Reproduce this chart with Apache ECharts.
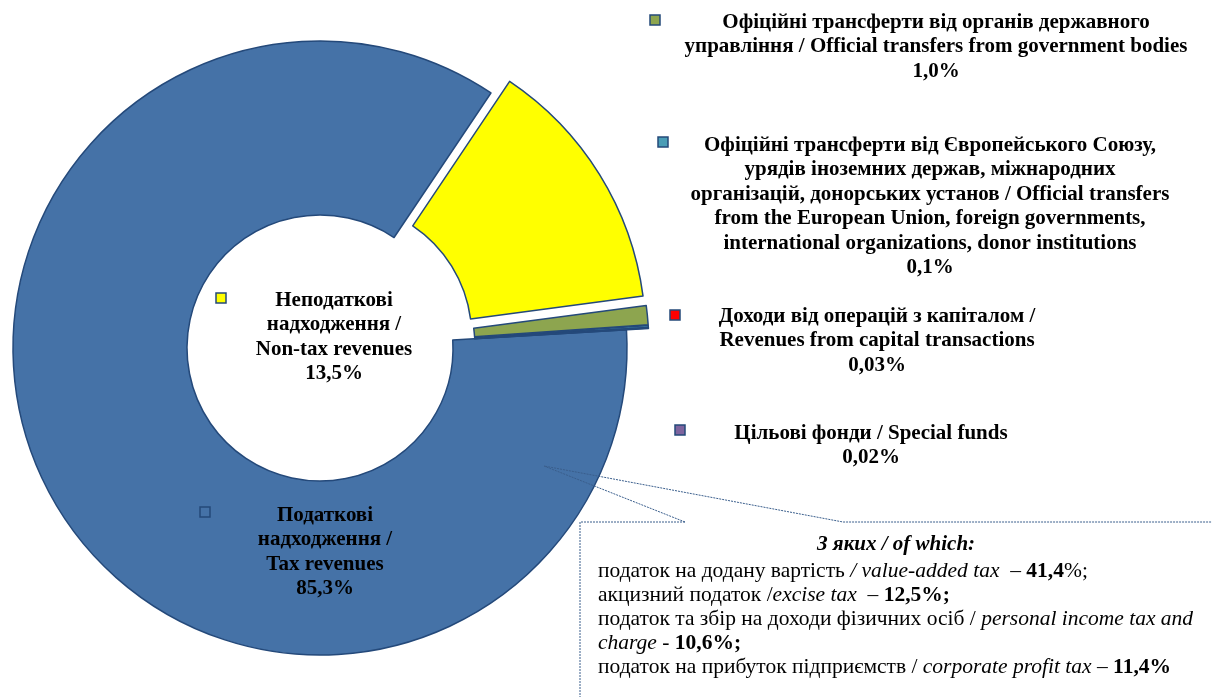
<!DOCTYPE html>
<html>
<head>
<meta charset="utf-8">
<script src="https://cdn.jsdelivr.net/npm/echarts@6/dist/echarts.min.js"></script>
<style>
  html, body { margin: 0; padding: 0; background: #fff; }
  #chart { width: 1212px; height: 697px; }
</style>
</head>
<body>
<div id="chart"></div>
<script>
// структура доходів
const categories = [
  'Податкові\nнадходження /\nTax revenues',
  'Неподаткові\nнадходження /\nNon-tax revenues',
  'Офіційні трансферти від органів державного\nуправління / Official transfers from government bodies',
  'Офіційні трансферти від Європейського Союзу,\nурядів іноземних держав, міжнародних\nорганізацій, донорських установ / Official transfers\nfrom the European Union, foreign governments,\ninternational organizations, donor institutions',
  'Доходи від операцій з капіталом /\nRevenues from capital transactions',
  'Цільові фонди / Special funds'
]
const shares = [85.3, 13.5, 1.0, 0.1, 0.03, 0.02]
const shareLabels = ['85,3%', '13,5%', '1,0%', '0,1%', '0,03%', '0,02%']

// з яких
const taxTitle = 'З яких / of which:'
const taxItemsUa = ['податок на додану вартість ', 'акцизний податок /', 'податок та збір на доходи фізичних осіб / ', 'податок на прибуток підприємств / ']
const taxItemsEn = ['/ value-added tax', 'excise tax', 'personal income tax and', 'corporate profit tax']
const taxShares = ['41,4', '12,5', '10,6', '11,4']

const colors = ['#4572A7', '#FFFF00', '#8DA54F', '#4A9DB6', '#FF0000', '#7E649E']
const edge = '#24497A'
const font = '"Liberation Serif", "Times New Roman", serif'

// розташування підписів
const labelPos = [
  { x: 325, y: 503, mx: 200, my: 507 },
  { x: 334, y: 288, mx: 216, my: 293 },
  { x: 936, y: 10, mx: 650, my: 15 },
  { x: 930, y: 133, mx: 658, my: 137 },
  { x: 877, y: 304, mx: 670, my: 310 },
  { x: 871, y: 421, mx: 675, my: 425 }
]

const chart = echarts.init(document.getElementById('chart'))

const graphics = []
categories.forEach((name, i) => {
  const p = labelPos[i]
  graphics.push({
    type: 'rect',
    shape: { x: p.mx, y: p.my, width: 10, height: 10 },
    style: { fill: colors[i], stroke: edge, lineWidth: 1.5 },
    z: 10
  })
  graphics.push({
    type: 'text',
    x: p.x,
    y: p.y,
    style: {
      text: name + '\n' + shareLabels[i],
      textAlign: 'center',
      textVerticalAlign: 'top',
      font: 'bold 21px ' + font,
      lineHeight: 24.5,
      fill: '#000'
    },
    z: 10
  })
})

// виноска
const calloutStyle = { stroke: '#3A5E8C', lineWidth: 1, lineDash: [2, 1], fill: null }
graphics.push({
  type: 'polyline',
  shape: { points: [[685, 522], [580, 522], [580, 700]] },
  style: calloutStyle, z: 5
})
graphics.push({
  type: 'polyline',
  shape: { points: [[685, 522], [544, 466], [843, 522], [1215, 522]] },
  style: calloutStyle, z: 5
})

const rich = {
  t: { font: 'italic bold 21px ' + font, fill: '#000' },
  n: { font: '21.5px ' + font, fill: '#000' },
  i: { font: 'italic 21.5px ' + font, fill: '#000' },
  b: { font: 'bold 21.5px ' + font, fill: '#000' }
}
graphics.push({
  type: 'text',
  x: 896, y: 533,
  style: { text: '{t|' + taxTitle + '}', rich, textAlign: 'center', textVerticalAlign: 'top', lineHeight: 24 },
  z: 10
})
const boxLines = [
  '{n|' + taxItemsUa[0] + '}{i|' + taxItemsEn[0] + '}{n|  – }{b|' + taxShares[0] + '}{n|%;}',
  '{n|' + taxItemsUa[1] + '}{i|' + taxItemsEn[1] + '}{n|  – }{b|' + taxShares[1] + '%;}',
  '{n|' + taxItemsUa[2] + '}{i|' + taxItemsEn[2] + '}',
  '{i|charge}{n| - }{b|' + taxShares[2] + '%;}',
  '{n|' + taxItemsUa[3] + '}{i|' + taxItemsEn[3] + '}{n| – }{b|' + taxShares[3] + '%}'
]
graphics.push({
  type: 'text',
  x: 598, y: 559,
  style: { text: boxLines.join('\n'), rich, textAlign: 'left', textVerticalAlign: 'top', lineHeight: 24 },
  z: 10
})

chart.setOption({
  animation: false,
  color: colors,
  series: [
    {
      type: 'pie',
      center: [320, 348],
      radius: [133, 307],
      startAngle: 3.4,
      clockwise: true,
      selectedMode: 'multiple',
      selectedOffset: 22,
      avoidLabelOverlap: false,
      label: { show: false },
      labelLine: { show: false },
      emphasis: { disabled: true },
      itemStyle: { borderColor: edge, borderWidth: 1.5 },
      data: shares.map((v, i) => ({
        name: categories[i],
        value: v,
        selected: i > 0
      }))
    }
  ],
  graphic: graphics
})
</script>
</body>
</html>
